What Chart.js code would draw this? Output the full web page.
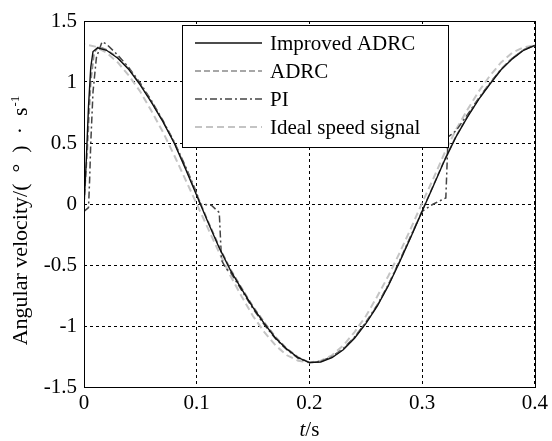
<!DOCTYPE html>
<html>
<head>
<meta charset="utf-8">
<script src="https://cdn.jsdelivr.net/npm/chart.js@4.4.0/dist/chart.umd.min.js"></script>
<style>
  html, body { margin: 0; padding: 0; background: #fff; }
</style>
</head>
<body>
<canvas id="myChart" width="552" height="441"></canvas>
<script>
// series names
var seriesNames = ["Improved ADRC", "ADRC", "PI", "Ideal speed signal"]

// tick labels
var xTicks = [0, 0.1, 0.2, 0.3, 0.4]
var yTicks = [-1.5, -1, -0.5, 0, 0.5, 1, 1.5]

// Improved ADRC (solid black)
var tImp = [0, 0.002, 0.004, 0.006, 0.008, 0.012, 0.02, 0.03, 0.04, 0.05, 0.06, 0.07, 0.08, 0.09, 0.10,
  0.11, 0.12, 0.13, 0.14, 0.15, 0.16, 0.17, 0.18, 0.19, 0.20, 0.21, 0.22, 0.23, 0.24, 0.25,
  0.26, 0.27, 0.28, 0.29, 0.30, 0.31, 0.32, 0.33, 0.34, 0.35, 0.36, 0.37, 0.38, 0.39, 0.40]
var vImp = [-0.02, 0.35, 0.80, 1.12, 1.25, 1.28, 1.26, 1.195, 1.10, 0.975, 0.83, 0.675, 0.50, 0.29, 0.07,
  -0.15, -0.36, -0.545, -0.70, -0.85, -0.98, -1.10, -1.19, -1.26, -1.30, -1.295, -1.26, -1.195, -1.10, -0.98,
  -0.84, -0.67, -0.475, -0.27, -0.06, 0.15, 0.36, 0.55, 0.71, 0.855, 0.98, 1.10, 1.19, 1.26, 1.30]

// ADRC (grey dashed)
var tAdrc = [0, 0.003, 0.006, 0.009, 0.013, 0.02, 0.03, 0.04, 0.05, 0.06, 0.07, 0.08, 0.09, 0.10,
  0.11, 0.12, 0.13, 0.14, 0.15, 0.16, 0.17, 0.18, 0.19, 0.20, 0.21, 0.22, 0.23, 0.24, 0.25,
  0.26, 0.27, 0.28, 0.29, 0.30, 0.31, 0.32, 0.33, 0.34, 0.35, 0.36, 0.37, 0.38, 0.39, 0.40]
var vAdrc = [0.0, 0.45, 1.0, 1.24, 1.29, 1.265, 1.20, 1.105, 0.98, 0.835, 0.68, 0.505, 0.30, 0.08,
  -0.14, -0.35, -0.535, -0.69, -0.84, -0.97, -1.09, -1.185, -1.255, -1.30, -1.29, -1.255, -1.19, -1.095, -0.975,
  -0.835, -0.665, -0.47, -0.265, -0.055, 0.155, 0.365, 0.555, 0.715, 0.86, 0.985, 1.105, 1.195, 1.265, 1.30]

// PI (dash-dot)
var tPI = [0, 0.004, 0.005, 0.006, 0.008, 0.011, 0.016, 0.02, 0.03, 0.04, 0.05, 0.06, 0.07, 0.08, 0.09, 0.10,
  0.103, 0.113, 0.120, 0.122, 0.126, 0.13, 0.14, 0.15, 0.16, 0.17, 0.18, 0.19, 0.20, 0.21, 0.22, 0.23, 0.24,
  0.25, 0.26, 0.27, 0.28, 0.29, 0.30, 0.31, 0.321, 0.323, 0.326, 0.33, 0.34, 0.35, 0.36, 0.37, 0.38, 0.39, 0.40]
var vPI = [-0.06, -0.03, 0.2, 0.5, 0.92, 1.2, 1.33, 1.31, 1.22, 1.115, 0.99, 0.845, 0.685, 0.51, 0.31, 0.09,
  0.0, -0.01, -0.07, -0.46, -0.53, -0.56, -0.71, -0.86, -0.99, -1.105, -1.195, -1.265, -1.30, -1.29, -1.25, -1.185, -1.09,
  -0.97, -0.83, -0.66, -0.465, -0.26, -0.06, 0.0, 0.05, 0.55, 0.57, 0.60, 0.73, 0.865, 0.99, 1.105, 1.195, 1.265, 1.30]

// Ideal speed signal (light grey dashed)
var tIdeal = [0, 0, 0.01, 0.02, 0.03, 0.04, 0.05, 0.06, 0.07, 0.08, 0.09, 0.10,
  0.11, 0.12, 0.13, 0.14, 0.15, 0.16, 0.17, 0.18, 0.19, 0.20, 0.21, 0.22, 0.23, 0.24, 0.25,
  0.26, 0.27, 0.28, 0.29, 0.30, 0.31, 0.32, 0.33, 0.34, 0.35, 0.36, 0.37, 0.38, 0.39, 0.40]
var vIdeal = [0, 1.31, 1.29, 1.24, 1.16, 1.05, 0.92, 0.76, 0.59, 0.40, 0.20, 0.0,
  -0.20, -0.40, -0.59, -0.76, -0.92, -1.05, -1.16, -1.24, -1.285, -1.30, -1.285, -1.24, -1.16, -1.05, -0.92,
  -0.76, -0.59, -0.40, -0.20, 0.01, 0.21, 0.42, 0.61, 0.77, 0.92, 1.05, 1.16, 1.24, 1.285, 1.30]

function pts(ts, vs) {
  return ts.map(function (t, i) { return { x: t, y: vs[i] } })
}

const SERIF = '"Liberation Serif", "Times New Roman", serif'

// box frame, legend and axis titles
const decorations = {
  id: 'decorations',
  afterDraw(chart) {
    const ctx = chart.ctx, a = chart.chartArea
    ctx.save()
    ctx.setLineDash([])
    ctx.strokeStyle = '#000'
    ctx.lineWidth = 1
    ctx.strokeRect(Math.round(a.left) + 0.5, Math.round(a.top) + 0.5,
      Math.round(a.right - a.left), Math.round(a.bottom - a.top))

    // legend box
    const bx = Math.round(a.left) + 98, by = Math.round(a.top) + 4, bw = 266, bh = 122
    ctx.fillStyle = '#fff'
    ctx.fillRect(bx, by, bw, bh)
    ctx.strokeRect(bx + 0.5, by + 0.5, bw, bh)
    ctx.font = '21px ' + SERIF
    ctx.textBaseline = 'middle'
    ctx.textAlign = 'left'
    chart.data.datasets.forEach(function (ds, i) {
      const y = by + 18 + i * 28
      ctx.beginPath()
      ctx.strokeStyle = ds.borderColor
      ctx.lineWidth = ds.borderWidth
      ctx.setLineDash(ds.borderDash || [])
      ctx.moveTo(bx + 13, y)
      ctx.lineTo(bx + 80, y)
      ctx.stroke()
      ctx.fillStyle = '#000'
      ctx.fillText(ds.label, bx + 88, y + 1)
    })
    ctx.setLineDash([])

    // x title: t/s
    ctx.fillStyle = '#000'
    ctx.textBaseline = 'alphabetic'
    const cx = (a.left + a.right) / 2
    ctx.font = 'italic 21px ' + SERIF
    const wt = ctx.measureText('t').width
    ctx.font = '21px ' + SERIF
    const ws = ctx.measureText('/s').width
    const x0 = cx - (wt + ws) / 2
    ctx.font = 'italic 21px ' + SERIF
    ctx.fillText('t', x0, 436)
    ctx.font = '21px ' + SERIF
    ctx.fillText('/s', x0 + wt, 436)

    // y title
    ctx.translate(27, 221)
    ctx.rotate(-Math.PI / 2)
    const main = 'Angular velocity/(\u2002\u00b0\u2002)\u2002\u00b7\u2002s'
    ctx.font = '22px ' + SERIF
    const wm = ctx.measureText(main).width
    ctx.font = '13px ' + SERIF
    const wsup = ctx.measureText('-1').width
    const sx = -(wm + wsup) / 2
    ctx.font = '22px ' + SERIF
    ctx.fillText(main, sx, 0)
    ctx.font = '13px ' + SERIF
    ctx.fillText('-1', sx + wm + 1, -8)
    ctx.restore()
  }
}

const data = {
  datasets: [
    {
      label: seriesNames[0],
      data: pts(tImp, vImp),
      borderColor: '#111',
      borderWidth: 1.4,
      borderDash: []
    },
    {
      label: seriesNames[1],
      data: pts(tAdrc, vAdrc),
      borderColor: '#8a8a8a',
      borderWidth: 1.6,
      borderDash: [6, 3]
    },
    {
      label: seriesNames[2],
      data: pts(tPI, vPI),
      borderColor: '#444',
      borderWidth: 1.5,
      borderDash: [7, 3, 2, 3]
    },
    {
      label: seriesNames[3],
      data: pts(tIdeal, vIdeal),
      borderColor: '#c4c4c4',
      borderWidth: 2,
      borderDash: [7, 4]
    }
  ]
}

const config = {
  type: 'line',
  data: data,
  options: {
    responsive: false,
    animation: false,
    layout: { padding: { left: 0, right: 15, top: 21, bottom: 0 } },
    elements: { point: { radius: 0 }, line: { tension: 0, fill: false } },
    plugins: { legend: { display: false }, tooltip: { enabled: false } },
    scales: {
      x: {
        type: 'linear',
        min: 0,
        max: 0.4,
        afterBuildTicks: function (s) { s.ticks = xTicks.map(function (v) { return { value: v } }) },
        afterFit: function (s) { s.height = 54 },
        ticks: {
          color: '#000',
          font: { family: SERIF, size: 21 },
          padding: 4,
          maxRotation: 0,
          autoSkip: false,
          callback: function (v) { return String(+v.toFixed(2)) }
        },
        grid: { color: '#000', lineWidth: 1, drawTicks: false },
        border: { display: false, dash: [3, 3] }
      },
      y: {
        type: 'linear',
        min: -1.5,
        max: 1.5,
        afterBuildTicks: function (s) { s.ticks = yTicks.map(function (v) { return { value: v } }) },
        afterFit: function (s) { s.width = 84 },
        ticks: {
          color: '#000',
          font: { family: SERIF, size: 21 },
          padding: 7,
          autoSkip: false,
          callback: function (v) { return String(+v.toFixed(2)) }
        },
        grid: { color: '#000', lineWidth: 1, drawTicks: false },
        border: { display: false, dash: [3, 3] }
      }
    }
  },
  plugins: [decorations]
}

const myChart = new Chart(document.getElementById('myChart'), config)
</script>
</body>
</html>
